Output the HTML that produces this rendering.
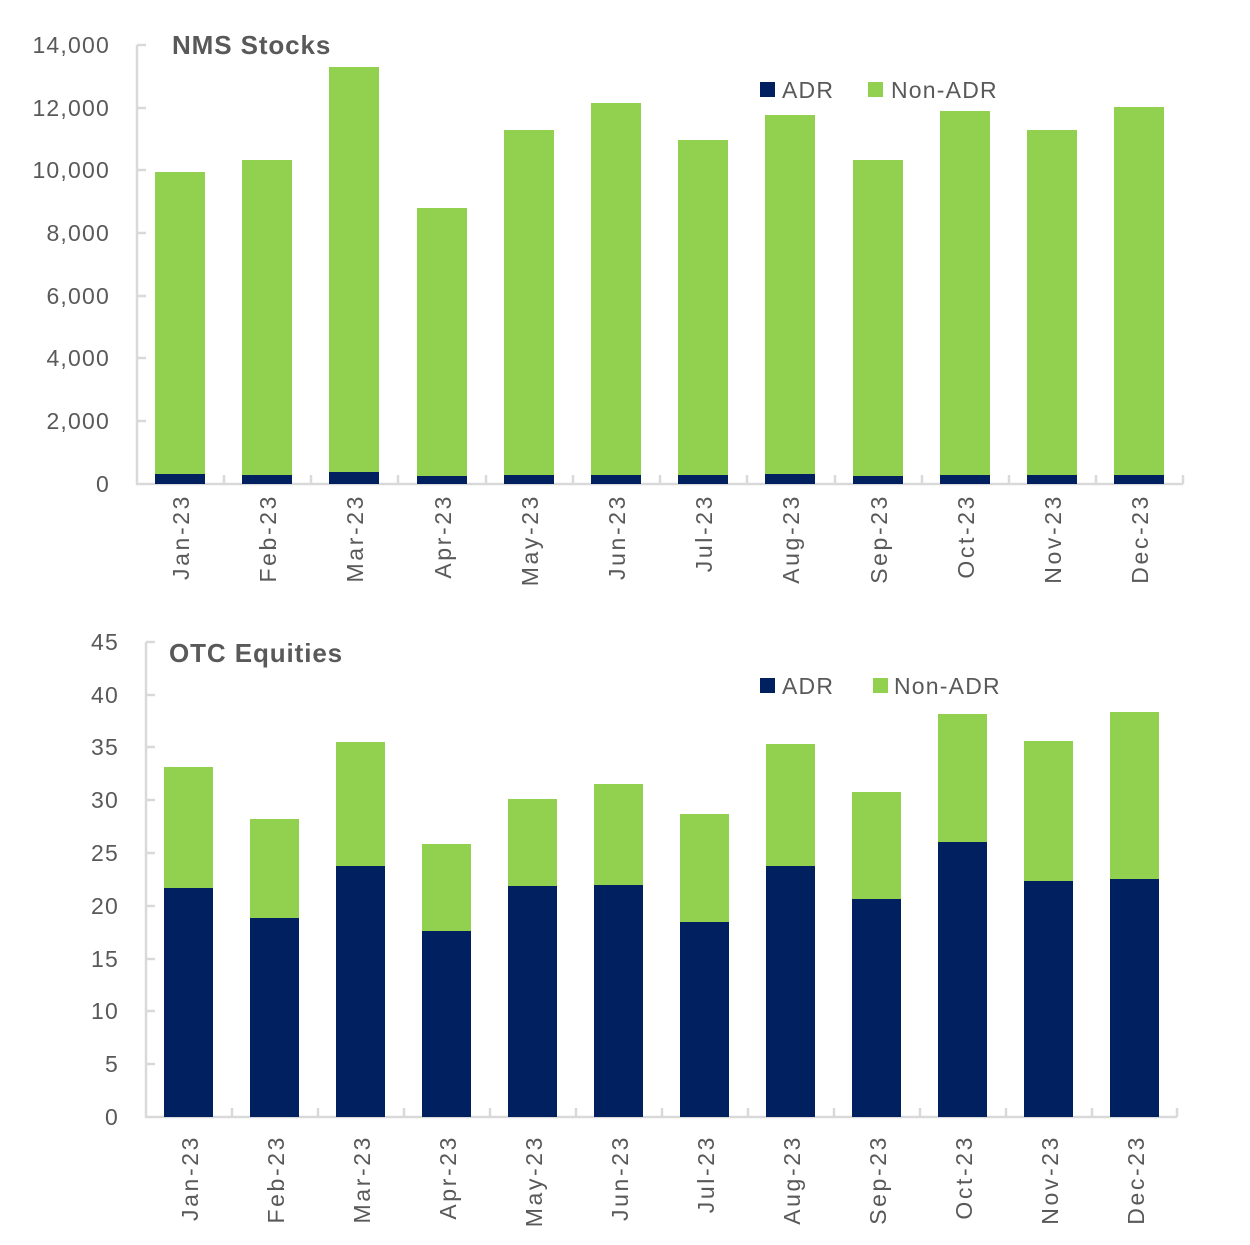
<!DOCTYPE html>
<html><head><meta charset="utf-8"><style>
body{margin:0;background:#fff}
svg{display:block;font-family:"Liberation Sans",sans-serif}
.t{font-size:23px;fill:#595959;letter-spacing:1.2px}
.x{letter-spacing:2.6px}
.h{font-size:26px;font-weight:bold;fill:#595959;letter-spacing:0.9px}
</style></head><body>
<svg width="1250" height="1245" viewBox="0 0 1250 1245">
<!-- TOP CHART -->
<g stroke="#d9d9d9" stroke-width="2.5" fill="none">
<path d="M137 45V484H1183"/>
<path d="M137 45h9M137 108h9M137 170h9M137 233h9M137 296h9M137 358h9M137 421h9"/>
<path d="M224 484v-9M311 484v-9M398 484v-9M486 484v-9M573 484v-9M660 484v-9M747 484v-9M835 484v-9M922 484v-9M1009 484v-9M1096 484v-9M1183 484v-9"/>
</g>
<g class="t" text-anchor="end">
<text x="110" y="53">14,000</text><text x="110" y="116">12,000</text><text x="110" y="178">10,000</text>
<text x="110" y="241">8,000</text><text x="110" y="304">6,000</text><text x="110" y="366">4,000</text>
<text x="110" y="429">2,000</text><text x="110" y="492">0</text>
</g>
<text class="h" x="172" y="54">NMS Stocks</text>
<g fill="#92d050">
<rect x="155" y="172" width="50" height="312"/><rect x="242" y="160" width="50" height="324"/>
<rect x="329" y="67" width="50" height="417"/><rect x="417" y="208" width="50" height="276"/>
<rect x="504" y="130" width="50" height="354"/><rect x="591" y="103" width="50" height="381"/>
<rect x="678" y="140" width="50" height="344"/><rect x="765" y="115" width="50" height="369"/>
<rect x="853" y="160" width="50" height="324"/><rect x="940" y="111" width="50" height="373"/>
<rect x="1027" y="130" width="50" height="354"/><rect x="1114" y="107" width="50" height="377"/>
</g>
<g fill="#002060">
<rect x="155" y="474" width="50" height="10"/><rect x="242" y="475" width="50" height="9"/>
<rect x="329" y="472" width="50" height="12"/><rect x="417" y="476" width="50" height="8"/>
<rect x="504" y="475" width="50" height="9"/><rect x="591" y="475" width="50" height="9"/>
<rect x="678" y="475" width="50" height="9"/><rect x="765" y="474" width="50" height="10"/>
<rect x="853" y="476" width="50" height="8"/><rect x="940" y="475" width="50" height="9"/>
<rect x="1027" y="475" width="50" height="9"/><rect x="1114" y="475" width="50" height="9"/>
</g>
<rect x="760" y="82" width="15" height="15" fill="#002060"/><text class="t" x="782" y="98">ADR</text>
<rect x="868" y="82" width="15" height="15" fill="#92d050"/><text class="t" x="891" y="98">Non-ADR</text>
<g class="t x" text-anchor="end">
<text transform="translate(189,494) rotate(-90)">Jan-23</text>
<text transform="translate(276,494) rotate(-90)">Feb-23</text>
<text transform="translate(363,494) rotate(-90)">Mar-23</text>
<text transform="translate(451,494) rotate(-90)">Apr-23</text>
<text transform="translate(538,494) rotate(-90)">May-23</text>
<text transform="translate(625,494) rotate(-90)">Jun-23</text>
<text transform="translate(712,494) rotate(-90)">Jul-23</text>
<text transform="translate(799,494) rotate(-90)">Aug-23</text>
<text transform="translate(887,494) rotate(-90)">Sep-23</text>
<text transform="translate(974,494) rotate(-90)">Oct-23</text>
<text transform="translate(1061,494) rotate(-90)">Nov-23</text>
<text transform="translate(1148,494) rotate(-90)">Dec-23</text>
</g>
<!-- BOTTOM CHART -->
<g stroke="#d9d9d9" stroke-width="2.5" fill="none">
<path d="M146 642V1117H1177"/>
<path d="M146 642h9M146 695h9M146 747h9M146 800h9M146 853h9M146 906h9M146 959h9M146 1011h9M146 1064h9"/>
<path d="M232 1117v-9M318 1117v-9M404 1117v-9M490 1117v-9M576 1117v-9M662 1117v-9M748 1117v-9M834 1117v-9M920 1117v-9M1006 1117v-9M1092 1117v-9M1177 1117v-9"/>
</g>
<g class="t" text-anchor="end">
<text x="119" y="650">45</text><text x="119" y="703">40</text><text x="119" y="755">35</text>
<text x="119" y="808">30</text><text x="119" y="861">25</text><text x="119" y="914">20</text>
<text x="119" y="967">15</text><text x="119" y="1019">10</text><text x="119" y="1072">5</text>
<text x="119" y="1125">0</text>
</g>
<text class="h" x="169" y="662">OTC Equities</text>
<g fill="#92d050">
<rect x="164" y="767" width="49" height="350"/><rect x="250" y="819" width="49" height="298"/>
<rect x="336" y="742" width="49" height="375"/><rect x="422" y="844" width="49" height="273"/>
<rect x="508" y="799" width="49" height="318"/><rect x="594" y="784" width="49" height="333"/>
<rect x="680" y="814" width="49" height="303"/><rect x="766" y="744" width="49" height="373"/>
<rect x="852" y="792" width="49" height="325"/><rect x="938" y="714" width="49" height="403"/>
<rect x="1024" y="741" width="49" height="376"/><rect x="1110" y="712" width="49" height="405"/>
</g>
<g fill="#002060">
<rect x="164" y="888" width="49" height="229"/><rect x="250" y="918" width="49" height="199"/>
<rect x="336" y="866" width="49" height="251"/><rect x="422" y="931" width="49" height="186"/>
<rect x="508" y="886" width="49" height="231"/><rect x="594" y="885" width="49" height="232"/>
<rect x="680" y="922" width="49" height="195"/><rect x="766" y="866" width="49" height="251"/>
<rect x="852" y="899" width="49" height="218"/><rect x="938" y="842" width="49" height="275"/>
<rect x="1024" y="881" width="49" height="236"/><rect x="1110" y="879" width="49" height="238"/>
</g>
<rect x="760" y="678" width="15" height="15" fill="#002060"/><text class="t" x="782" y="694">ADR</text>
<rect x="873" y="678" width="15" height="15" fill="#92d050"/><text class="t" x="894" y="694">Non-ADR</text>
<g class="t x" text-anchor="end">
<text transform="translate(198,1135) rotate(-90)">Jan-23</text>
<text transform="translate(284,1135) rotate(-90)">Feb-23</text>
<text transform="translate(370,1135) rotate(-90)">Mar-23</text>
<text transform="translate(456,1135) rotate(-90)">Apr-23</text>
<text transform="translate(542,1135) rotate(-90)">May-23</text>
<text transform="translate(628,1135) rotate(-90)">Jun-23</text>
<text transform="translate(714,1135) rotate(-90)">Jul-23</text>
<text transform="translate(800,1135) rotate(-90)">Aug-23</text>
<text transform="translate(886,1135) rotate(-90)">Sep-23</text>
<text transform="translate(972,1135) rotate(-90)">Oct-23</text>
<text transform="translate(1058,1135) rotate(-90)">Nov-23</text>
<text transform="translate(1144,1135) rotate(-90)">Dec-23</text>
</g>
</svg>
</body></html>
